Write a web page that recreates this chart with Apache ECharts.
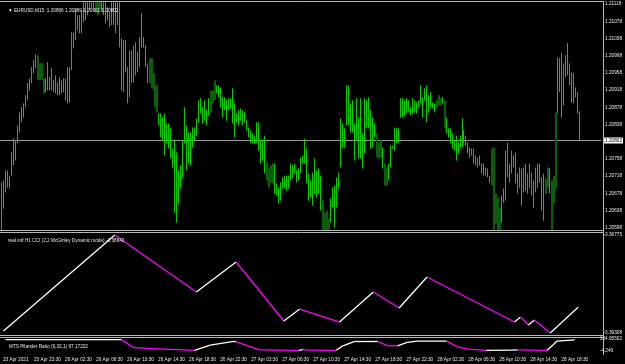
<!DOCTYPE html>
<html>
<head>
<meta charset="utf-8">
<title>EURUSD,M15</title>
<script src="https://cdn.jsdelivr.net/npm/echarts@6/dist/echarts.min.js"></script>
<style>
html, body { margin:0; padding:0; background:#000; }
#chart { width:625px; height:364px; }
</style>
</head>
<body>
<div id="chart"></div>
<script>
// M15 bars, oldest first
var barHigh = [1.20703,
 1.20708,1.20731,1.20731,1.20719,1.20773,1.20805,1.20801,1.20836,1.20866,1.20878,
 1.20887,1.20906,1.20934,1.20945,1.20971,1.20987,1.21001,1.20999,1.20980,1.20980,
 1.20945,1.20945,1.20983,1.20948,1.20969,1.20941,1.20952,1.20936,1.20948,1.20941,
 1.20945,1.20945,1.20971,1.20971,1.21052,1.21052,1.21104,1.21092,1.21092,1.21104,
 1.21122,1.21122,1.21122,1.21122,1.21122,1.21122,1.21122,1.21122,1.21122,1.21122,
 1.21122,1.21122,1.21111,1.21099,1.21122,1.21122,1.21122,1.21122,1.21122,1.21038,
 1.21034,1.21034,1.20971,1.21010,1.21010,1.21022,1.21029,1.21006,1.21041,1.21097,
 1.21041,1.21022,1.20980,1.20992,1.20992,1.20957,1.20929,1.20929,1.20864,1.20864,
 1.20854,1.20864,1.20840,1.20840,1.20829,1.20782,1.20801,1.20773,1.20731,1.20743,
 1.20801,1.20878,1.20836,1.20819,1.20819,1.20831,1.20831,1.20852,1.20894,1.20899,
 1.20878,1.20894,1.20871,1.20899,1.20917,1.20917,1.20941,1.20929,1.20929,1.20924,
 1.20901,1.20901,1.20894,1.20899,1.20899,1.20922,1.20887,1.20864,1.20871,1.20875,
 1.20871,1.20866,1.20847,1.20831,1.20824,1.20817,1.20812,1.20843,1.20843,1.20801,
 1.20801,1.20812,1.20750,1.20736,1.20743,1.20747,1.20747,1.20701,1.20691,1.20703,
 1.20715,1.20719,1.20719,1.20719,1.20747,1.20743,1.20747,1.20731,1.20736,1.20761,
 1.20766,1.20805,1.20782,1.20724,1.20708,1.20726,1.20759,1.20731,1.20736,1.20719,
 1.20661,1.20633,1.20638,1.20619,1.20666,1.20691,1.20696,1.20715,1.20726,1.20852,
 1.20840,1.20829,1.20929,1.20929,1.20887,1.20894,1.20840,1.20899,1.20854,1.20899,
 1.20817,1.20899,1.20894,1.20901,1.20871,1.20854,1.20840,1.20817,1.20796,1.20801,
 1.20785,1.20747,1.20738,1.20747,1.20789,1.20789,1.20831,1.20829,1.20829,1.20899,
 1.20899,1.20894,1.20899,1.20894,1.20878,1.20899,1.20894,1.20889,1.20894,1.20929,
 1.20901,1.20922,1.20929,1.20906,1.20913,1.20889,1.20887,1.20894,1.20906,1.20899,
 1.20901,1.20894,1.20854,1.20829,1.20829,1.20817,1.20801,1.20812,1.20796,1.20812,
 1.20852,1.20824,1.20812,1.20796,1.20785,1.20782,1.20782,1.20766,1.20761,1.20766,
 1.20747,1.20747,1.20738,1.20736,1.20719,1.20782,1.20785,1.20677,1.20668,1.20645,
 1.20673,1.20689,1.20777,1.20796,1.20747,1.20777,1.20766,1.20773,1.20724,1.20738,
 1.20736,1.20738,1.20747,1.20724,1.20747,1.20726,1.20708,1.20738,1.20747,1.20747,
 1.20715,1.20724,1.20712,1.20738,1.20736,1.20708,1.20719,1.20866,1.20994,1.20992,
 1.21004,1.20980,1.20999,1.21027,1.20980,1.20959,1.20957,1.20924,1.20913,1.20869];

var barLow = [1.20591,
 1.20642,1.20680,1.20691,1.20689,1.20719,1.20743,1.20754,1.20794,1.20819,1.20843,
 1.20854,1.20878,1.20894,1.20917,1.20934,1.20957,1.20969,1.20941,1.20941,1.20941,
 1.20910,1.20913,1.20917,1.20917,1.20917,1.20913,1.20910,1.20906,1.20906,1.20910,
 1.20913,1.20894,1.20887,1.20889,1.20964,1.21015,1.21034,1.21057,1.21050,1.21050,
 1.21076,1.21080,1.21092,1.21104,1.21108,1.21108,1.21099,1.21092,1.21104,1.21099,
 1.21092,1.21073,1.21080,1.21064,1.21069,1.21069,1.21050,1.21069,1.21017,1.20917,
 1.20913,1.20959,1.20887,1.20901,1.20934,1.20936,1.20952,1.20959,1.20971,1.21017,
 1.21017,1.20971,1.20934,1.20934,1.20922,1.20917,1.20878,1.20866,1.20836,1.20808,
 1.20801,1.20766,1.20794,1.20782,1.20759,1.20738,1.20633,1.20610,1.20654,1.20689,
 1.20712,1.20794,1.20731,1.20747,1.20743,1.20785,1.20801,1.20812,1.20843,1.20864,
 1.20840,1.20847,1.20836,1.20859,1.20866,1.20887,1.20894,1.20910,1.20901,1.20878,
 1.20854,1.20871,1.20847,1.20871,1.20875,1.20840,1.20808,1.20843,1.20836,1.20847,
 1.20836,1.20843,1.20824,1.20808,1.20794,1.20794,1.20794,1.20796,1.20777,1.20747,
 1.20754,1.20724,1.20708,1.20691,1.20703,1.20701,1.20677,1.20673,1.20654,1.20661,
 1.20689,1.20689,1.20684,1.20689,1.20708,1.20715,1.20724,1.20703,1.20708,1.20726,
 1.20747,1.20747,1.20701,1.20661,1.20668,1.20649,1.20677,1.20668,1.20677,1.20638,
 1.20591,1.20591,1.20591,1.20591,1.20610,1.20645,1.20598,1.20645,1.20689,1.20738,
 1.20785,1.20785,1.20836,1.20836,1.20819,1.20819,1.20754,1.20801,1.20759,1.20759,
 1.20736,1.20771,1.20831,1.20829,1.20782,1.20785,1.20808,1.20761,1.20759,1.20761,
 1.20736,1.20696,1.20696,1.20708,1.20738,1.20782,1.20777,1.20794,1.20796,1.20854,
 1.20854,1.20859,1.20864,1.20866,1.20859,1.20864,1.20866,1.20864,1.20878,1.20887,
 1.20854,1.20894,1.20843,1.20866,1.20878,1.20875,1.20866,1.20878,1.20882,1.20882,
 1.20887,1.20829,1.20817,1.20808,1.20794,1.20782,1.20777,1.20754,1.20771,1.20785,
 1.20785,1.20794,1.20789,1.20771,1.20761,1.20766,1.20747,1.20743,1.20738,1.20743,
 1.20724,1.20719,1.20719,1.20715,1.20703,1.20696,1.20591,1.20607,1.20591,1.20591,
 1.20610,1.20656,1.20661,1.20715,1.20703,1.20724,1.20738,1.20701,1.20677,1.20691,
 1.20649,1.20680,1.20684,1.20677,1.20691,1.20673,1.20645,1.20680,1.20691,1.20703,
 1.20638,1.20614,1.20677,1.20691,1.20677,1.20591,1.20654,1.20689,1.20864,1.20913,
 1.20854,1.20882,1.20948,1.20952,1.20929,1.20889,1.20887,1.20901,1.20864,1.20801];

// bars drawn in the darker green
var darkBars = [18,19,20,21, 47,48,49, 74,75,76,77,78, 105,106,107, 133,134,135,136,
 161,162,163,164, 188,189,190, 192,193, 218,219,220, 222, 246,247,248,249,250, 273,274, 276,277,278];

var lastQuote = [1.20866, 1.20869, 1.20801, 1.20802];
var priceTicks = [1.21118,1.21078,1.21038,1.20998,1.20958,1.20918,1.20878,1.20838,1.20758,1.20718,1.20678,1.20638,1.20598];

// real mtf H1 CCI, turning points (bar, value)
var cciBar = [1, 57, 98, 118, 142, 150, 170, 187, 200, 214, 258, 261, 265, 268, 276, 290];
var cciVal = [-3.39257,-3.36775,-3.38248,-3.37473,-3.38998,-3.38688,-3.39024,-3.38248,-3.38662,-3.37861,
 -3.39024,-3.38895,-3.39102,-3.38972,-3.39308,-3.38642];
var cciRange = [-3.39308, -3.36775];

// MTS ratio line (bar, value)
var ratioBar = [1, 60, 66, 76, 97, 105, 116, 118, 123, 130, 150, 152, 155, 169, 172, 178, 190, 195, 200, 205, 210, 225, 231, 236, 245, 258, 261, 276, 279, 281, 290];
var ratioVal = [99, 99, 26, 17, 2, 50, 82, 82, 50, 6, 2, 8, 4, 2, 40, 82, 82, 45, 43, 75, 85, 86, 30, 12, 2, 3, 6, 2, 50, 86, 97.17222];
var ratioRange = [-4.249, 104.95502];

var timeLabels = ['23 Apr 2021','23 Apr 22:30','26 Apr 02:30','26 Apr 06:30','26 Apr 10:30','26 Apr 14:30',
 '26 Apr 18:30','26 Apr 22:30','27 Apr 02:30','27 Apr 06:30','27 Apr 10:30','27 Apr 14:30','27 Apr 18:30',
 '27 Apr 22:30','28 Apr 02:30','28 Apr 06:30','28 Apr 10:30','28 Apr 14:30','28 Apr 18:30'];

var FONT = 'Liberation Sans, Arial, sans-serif';
var FS = 4.7;
var BRIGHT = '#10c800';
var DARK = '#0b5e0b';
var FRAME = '#b8b8b8';
var XMIN = -0.75, XMAX = 300.75;

var barData = [];
for (var i = 0; i < barHigh.length; i++) {
    barData.push([i, barHigh[i], barLow[i], darkBars.indexOf(i) >= 0 ? 1 : 0]);
}
var lastBar = barHigh.length - 1;
var cciData = cciBar.map(function (b, k) { return [b, cciVal[k]]; });
var ratioData = ratioBar.map(function (b, k) { return [b, ratioVal[k]]; });
var timePos = timeLabels.map(function (t, k) { return -0.25 + 15.75 * k; });

// one segment per pair of points, white going up and magenta going down
function zigzag(data) {
    return function (params, api) {
        var k = params.dataIndex;
        if (k == 0) return null;
        var a = api.coord(data[k - 1]);
        var b = api.coord(data[k]);
        var up = data[k][1] >= data[k - 1][1];
        return {
            type: 'line',
            shape: { x1: a[0], y1: a[1], x2: b[0], y2: b[1] },
            style: { stroke: up ? '#ffffff' : '#ff00ff', lineWidth: 1.3 }
        };
    };
}

function xAxisFor(grid) {
    return { type: 'value', gridIndex: grid, min: XMIN, max: XMAX, show: false };
}

function hline(x1, x2, y) {
    return { type: 'line', shape: { x1: x1, y1: y, x2: x2, y2: y }, style: { stroke: FRAME, lineWidth: 1 }, z: -1 };
}

function priceAxis(grid, lo, hi, ticks, fmt) {
    return {
        type: 'value', gridIndex: grid, position: 'right', min: lo, max: hi,
        axisLine: { show: false }, splitLine: { show: false }, axisTick: { show: false },
        axisLabel: { customValues: ticks, formatter: fmt, color: '#e8e8e8', fontSize: FS, fontFamily: FONT, margin: 4 }
    };
}

var option = {
    backgroundColor: '#000',
    animation: false,
    title: [
        { text: '\u25BC EURUSD,M15  1.20866 1.20869 1.20801 1.20802', left: 3, top: 3,
          textStyle: { color: '#e8e8e8', fontSize: FS, fontWeight: 'normal', fontFamily: FONT } },
        { text: 'real mtf H1 CCI (2,2 McGinley Dynamic mode) -3.38642', left: 3, top: 233,
          textStyle: { color: '#e8e8e8', fontSize: FS, fontWeight: 'normal', fontFamily: FONT } },
        { text: 'MTS Pilander Ratio (9,32,1) 97.17222', left: 4, top: 339,
          textStyle: { color: '#e8e8e8', fontSize: FS, fontWeight: 'normal', fontFamily: FONT } }
    ],
    grid: [
        { left: 0, top: 4, width: 603, height: 223.7 },
        { left: 0, top: 235, width: 603, height: 98 },
        { left: 0, top: 339, width: 603, height: 12 }
    ],
    xAxis: [
        xAxisFor(0), xAxisFor(1), xAxisFor(2),
        {
            type: 'value', gridIndex: 2, min: XMIN, max: XMAX, position: 'bottom', offset: 2,
            axisLine: { show: false }, axisTick: { show: false }, splitLine: { show: false },
            axisLabel: {
                customValues: timePos, align: 'left', margin: 4, color: '#e8e8e8',
                fontSize: FS, fontFamily: FONT,
                formatter: function (v) { return timeLabels[Math.round((v + 0.25) / 15.75)]; }
            }
        }
    ],
    yAxis: [
        priceAxis(0, 1.20598, 1.21118, priceTicks, function (v) { return v.toFixed(5); }),
        priceAxis(1, cciRange[0], cciRange[1], cciRange, function (v) { return v.toFixed(5); }),
        priceAxis(2, ratioRange[0], ratioRange[1], ratioRange, function (v) { return String(v); })
    ],
    // pane separators and the price scale edge
    graphic: [
        hline(0, 603, 1.5), hline(0, 603, 230.5), hline(0, 603, 232.5),
        hline(0, 603, 335.5), hline(0, 603, 337.5),
        { type: 'line', shape: { x1: 603.5, y1: 1, x2: 603.5, y2: 355 }, style: { stroke: FRAME, lineWidth: 1 }, z: -1 }
    ],
    series: [
        {
            type: 'custom', xAxisIndex: 0, yAxisIndex: 0, clip: false,
            data: barData,
            renderItem: function (params, api) {
                var hi = api.coord([api.value(0), api.value(1)]);
                var lo = api.coord([api.value(0), api.value(2)]);
                var dark = api.value(3) == 1;
                var x = dark ? Math.round(hi[0] + 0.5) : Math.floor(hi[0]) + 0.5;
                return {
                    type: 'line',
                    shape: { x1: x, y1: Math.max(hi[1], 2), x2: x, y2: Math.min(lo[1], 230) },
                    style: { stroke: dark ? DARK : BRIGHT, lineWidth: dark ? 2 : 1 }
                };
            }
        },
        {
            // last close: horizontal price line across the pane and its tag on the price scale
            type: 'custom', xAxisIndex: 0, yAxisIndex: 0, clip: false, z: 1,
            data: [[lastBar, lastQuote[3]]],
            renderItem: function (params, api) {
                var p = api.coord([api.value(0), api.value(1)]);
                var cs = params.coordSys;
                var y = Math.round(p[1]) + 0.5;
                return {
                    type: 'group',
                    children: [
                        { type: 'line', shape: { x1: cs.x, y1: y, x2: cs.x + cs.width, y2: y },
                          style: { stroke: '#9a9a9a', lineWidth: 1 } },
                        { type: 'text', x: cs.x + cs.width + 3, y: y,
                          style: { text: lastQuote[3].toFixed(5), fill: '#000', backgroundColor: '#fff',
                                   padding: [1, 1, 0, 1], fontSize: FS, fontFamily: FONT, verticalAlign: 'middle' } }
                    ]
                };
            }
        },
        {
            type: 'custom', xAxisIndex: 1, yAxisIndex: 1, clip: false,
            data: cciData, renderItem: zigzag(cciData)
        },
        {
            type: 'custom', xAxisIndex: 2, yAxisIndex: 2, clip: false,
            data: ratioData, renderItem: zigzag(ratioData)
        }
    ]
};

var myChart = echarts.init(document.getElementById('chart'));
myChart.setOption(option);
</script>
</body>
</html>
